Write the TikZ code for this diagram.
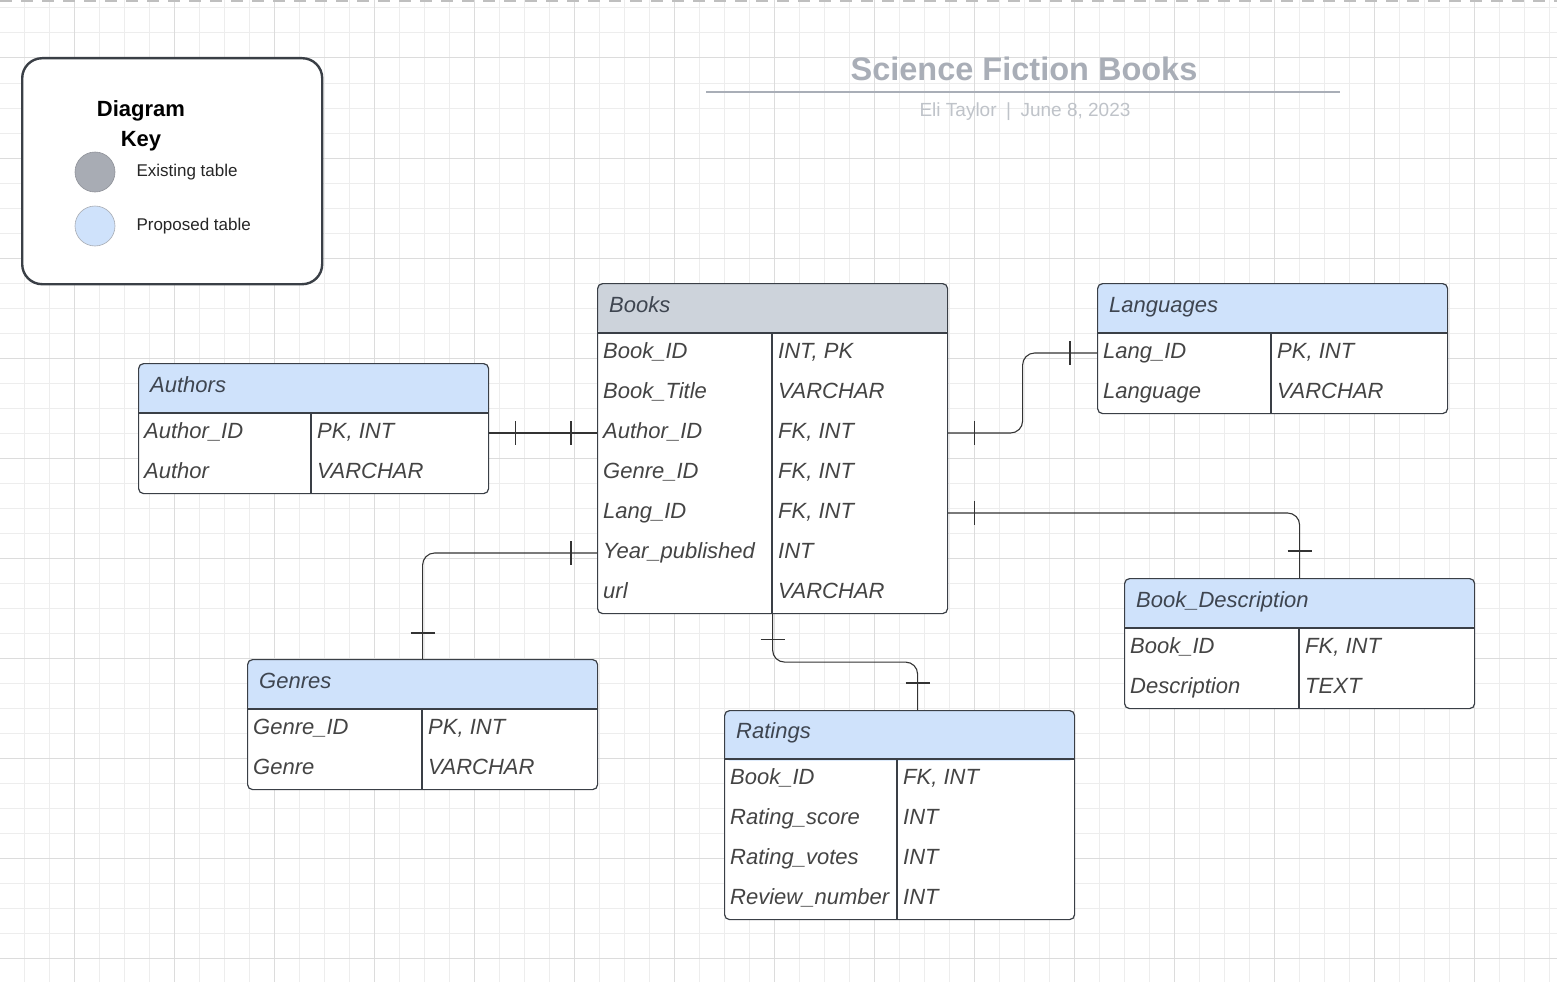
\documentclass[tikz,border=0pt]{standalone}
\usepackage{fontspec}
\setmainfont{Liberation Sans}
\usetikzlibrary{positioning,calc}
\definecolor{gridminor}{HTML}{EDEDED}
\definecolor{gridmajor}{HTML}{DCDCDC}
\definecolor{hdrgray}{HTML}{CDD3DB}
\definecolor{hdrblue}{HTML}{CFE2FB}
\definecolor{tblline}{HTML}{3A3F46}
\definecolor{fldtext}{HTML}{444444}
\definecolor{hdrtext}{HTML}{3E4550}
\definecolor{keygray}{HTML}{A8ACB4}
\definecolor{titlegray}{HTML}{A9AEB7}
\definecolor{subgray}{HTML}{BFC3C9}

\begin{document}
\begin{tikzpicture}[x=1pt,y=-1pt,line join=round,
  tbl/.style={draw=tblline,line width=1.2pt,fill=white,rounded corners=5pt,
    minimum width=350pt,anchor=north west,inner sep=0pt,
    path picture={\fill[#1] (path picture bounding box.north west) rectangle ([yshift=-50pt]path picture bounding box.north east);}},
  tblrule/.style={draw=tblline,line width=1.2pt},
  hdr/.style={font=\fontsize{22}{26}\selectfont\itshape,text=hdrtext,inner sep=0pt,anchor=west,text height=16pt,text depth=5pt},
  fld/.style={font=\fontsize{22}{26}\selectfont\itshape,text=fldtext,inner sep=0pt,anchor=west,text height=16pt,text depth=5pt},
  rel/.style={draw=black!80,line width=1.1pt,rounded corners=12pt},
  keytxt/.style={font=\fontsize{17}{20}\selectfont,text=black!85,inner sep=0pt}]

\useasboundingbox (0,0) rectangle (1557,982);
\fill[white] (0,0) rectangle (1557,982);

%% Background grid
\foreach \x in {24,49,...,1557} \draw[gridminor,line width=1pt] (\x,0) -- (\x,982);
\foreach \y in {8,33,...,982} \draw[gridminor,line width=1pt] (0,\y) -- (1557,\y);
\foreach \x in {74,174,...,1557} \draw[gridmajor,line width=1pt] (\x,0) -- (\x,982);
\foreach \y in {58,158,...,982} \draw[gridmajor,line width=1pt] (0,\y) -- (1557,\y);
\draw[black!25,line width=1.5pt,dash pattern=on 12pt off 9pt] (0,1) -- (1557,1);

%% Diagram key
\node (key) [draw=tblline,line width=2.4pt,fill=white,rounded corners=20pt,minimum width=300pt,minimum height=226pt,anchor=north west] at (21,57) {};
\node (keytitle) [font=\fontsize{22}{30}\selectfont\bfseries,align=center,inner sep=0pt] at (141,126) {Diagram\\Key};
\node (existing) [circle,fill=keygray,draw=keygray!85!black,line width=0.6pt,minimum size=40pt,inner sep=0pt] at (95,172) {};
\node (existingtxt) [keytxt,right=21pt of existing] {Existing table};
\node (proposed) [circle,fill=hdrblue,draw=keygray,line width=0.6pt,minimum size=40pt,inner sep=0pt] at (95,226) {};
\node (proposedtxt) [keytxt,right=21pt of proposed] {Proposed table};

%% Title
\node (title) [font=\fontsize{32.5}{36}\selectfont\bfseries,text=titlegray,inner sep=0pt] at (1024,69) {Science Fiction Books};
\coordinate (ruleL) at (706,92);
\coordinate (ruleR) at (1340,92);
\draw[titlegray,line width=2.6pt] (ruleL) -- (ruleR);
\node (subtitle) [font=\fontsize{19}{22}\selectfont,text=subgray,inner sep=0pt] at (1025,112) {Eli Taylor\enspace|\enspace June 8, 2023};

%% Books
\node (Books) [tbl=hdrgray,minimum height=330pt] at (597,283) {};
\draw[tblrule] ([yshift=-50pt]Books.north west) -- ([yshift=-50pt]Books.north east);
\draw[tblrule] ([xshift=175pt,yshift=-50pt]Books.north west) -- ([xshift=175pt]Books.south west);
\node (Books-h) [hdr] at ($(Books.north west)+(12,23.5)$) {Books};
\foreach \fn/\ty [count=\i] in {Book\_ID/{INT, PK},Book\_Title/VARCHAR,Author\_ID/{FK, INT},Genre\_ID/{FK, INT},Lang\_ID/{FK, INT},Year\_published/INT,url/VARCHAR} {
  \node (Books-f\i) [fld] at ($(Books.north west)+(6,30+40*\i)$) {\fn};
  \node (Books-t\i) [fld] at ($(Books.north west)+(181,30+40*\i)$) {\ty};
}

%% Authors
\node (Authors) [tbl=hdrblue,minimum height=130pt] at (138,363) {};
\draw[tblrule] ([yshift=-50pt]Authors.north west) -- ([yshift=-50pt]Authors.north east);
\draw[tblrule] ([xshift=173pt,yshift=-50pt]Authors.north west) -- ([xshift=173pt]Authors.south west);
\node (Authors-h) [hdr] at ($(Authors.north west)+(12,23.5)$) {Authors};
\foreach \fn/\ty [count=\i] in {Author\_ID/{PK, INT},Author/VARCHAR} {
  \node (Authors-f\i) [fld] at ($(Authors.north west)+(6,30+40*\i)$) {\fn};
  \node (Authors-t\i) [fld] at ($(Authors.north west)+(179,30+40*\i)$) {\ty};
}

%% Languages
\node (Languages) [tbl=hdrblue,minimum height=130pt] at (1097,283) {};
\draw[tblrule] ([yshift=-50pt]Languages.north west) -- ([yshift=-50pt]Languages.north east);
\draw[tblrule] ([xshift=174pt,yshift=-50pt]Languages.north west) -- ([xshift=174pt]Languages.south west);
\node (Languages-h) [hdr] at ($(Languages.north west)+(12,23.5)$) {Languages};
\foreach \fn/\ty [count=\i] in {Lang\_ID/{PK, INT},Language/VARCHAR} {
  \node (Languages-f\i) [fld] at ($(Languages.north west)+(6,30+40*\i)$) {\fn};
  \node (Languages-t\i) [fld] at ($(Languages.north west)+(180,30+40*\i)$) {\ty};
}

%% Book_Description
\node (BookDesc) [tbl=hdrblue,minimum height=130pt] at (1124,578) {};
\draw[tblrule] ([yshift=-50pt]BookDesc.north west) -- ([yshift=-50pt]BookDesc.north east);
\draw[tblrule] ([xshift=175pt,yshift=-50pt]BookDesc.north west) -- ([xshift=175pt]BookDesc.south west);
\node (BookDesc-h) [hdr] at ($(BookDesc.north west)+(12,23.5)$) {Book\_Description};
\foreach \fn/\ty [count=\i] in {Book\_ID/{FK, INT},Description/TEXT} {
  \node (BookDesc-f\i) [fld] at ($(BookDesc.north west)+(6,30+40*\i)$) {\fn};
  \node (BookDesc-t\i) [fld] at ($(BookDesc.north west)+(181,30+40*\i)$) {\ty};
}

%% Genres
\node (Genres) [tbl=hdrblue,minimum height=130pt] at (247,659) {};
\draw[tblrule] ([yshift=-50pt]Genres.north west) -- ([yshift=-50pt]Genres.north east);
\draw[tblrule] ([xshift=175pt,yshift=-50pt]Genres.north west) -- ([xshift=175pt]Genres.south west);
\node (Genres-h) [hdr] at ($(Genres.north west)+(12,23.5)$) {Genres};
\foreach \fn/\ty [count=\i] in {Genre\_ID/{PK, INT},Genre/VARCHAR} {
  \node (Genres-f\i) [fld] at ($(Genres.north west)+(6,30+40*\i)$) {\fn};
  \node (Genres-t\i) [fld] at ($(Genres.north west)+(181,30+40*\i)$) {\ty};
}

%% Ratings
\node (Ratings) [tbl=hdrblue,minimum height=209pt] at (724,710) {};
\draw[tblrule] ([yshift=-49pt]Ratings.north west) -- ([yshift=-49pt]Ratings.north east);
\draw[tblrule] ([xshift=173pt,yshift=-49pt]Ratings.north west) -- ([xshift=173pt]Ratings.south west);
\node (Ratings-h) [hdr] at ($(Ratings.north west)+(12,23)$) {Ratings};
\foreach \fn/\ty [count=\i] in {Book\_ID/{FK, INT},Rating\_score/INT,Rating\_votes/INT,Review\_number/INT} {
  \node (Ratings-f\i) [fld] at ($(Ratings.north west)+(6,29+40*\i)$) {\fn};
  \node (Ratings-t\i) [fld] at ($(Ratings.north west)+(179,29+40*\i)$) {\ty};
}

%% Relations (one to one)
\draw[rel] (Authors-f1.west -| Authors.east) -- (Books-f3.west -| Books.west);
\draw[rel] ([xshift=26pt]Authors-f1.west -| Authors.east) ++(0,-12) -- ++(0,24);
\draw[rel] ([xshift=-26pt]Books-f3.west -| Books.west) ++(0,-12) -- ++(0,24);

\draw[rel] (Books-t3.west -| Books.east) -| ($(Books.east)!.5!(Languages.west)$) |- (Languages-f1.west -| Languages.west);
\draw[rel] ([xshift=26pt]Books-t3.west -| Books.east) ++(0,-12) -- ++(0,24);
\draw[rel] ([xshift=-27pt]Languages-f1.west -| Languages.west) ++(0,-12) -- ++(0,24);

\draw[rel] (Books-t5.west -| Books.east) -| (BookDesc.north);
\draw[rel] ([xshift=26pt]Books-t5.west -| Books.east) ++(0,-12) -- ++(0,24);
\draw[rel] ([yshift=27pt]BookDesc.north) ++(-12,0) -- ++(24,0);

\draw[rel] (Books-f6.west -| Books.west) -| (Genres.north);
\draw[rel] ([xshift=-26pt]Books-f6.west -| Books.west) ++(0,-12) -- ++(0,24);
\draw[rel] ([yshift=26pt]Genres.north) ++(-12,0) -- ++(24,0);

\draw[rel] (Books.south) |- ($(Books.south)!.5!([xshift=18pt]Ratings.north)$) -| ([xshift=18pt]Ratings.north);
\draw[rel] ([yshift=-25pt]Books.south) ++(-12,0) -- ++(24,0);
\draw[rel] ([xshift=18pt,yshift=27pt]Ratings.north) ++(-12,0) -- ++(24,0);
\end{tikzpicture}
\end{document}
